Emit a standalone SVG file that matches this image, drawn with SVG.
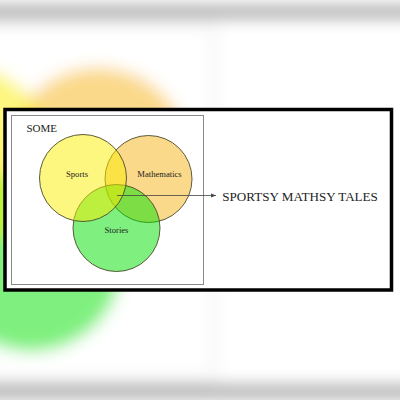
<svg xmlns="http://www.w3.org/2000/svg" width="400" height="400" viewBox="0 0 400 400">
  <defs>
    <filter id="blur" filterUnits="userSpaceOnUse" x="-60" y="-60" width="520" height="520">
      <feGaussianBlur stdDeviation="8"/>
    </filter>
    <marker id="arrow" markerWidth="6" markerHeight="6" refX="5" refY="3" orient="auto" markerUnits="userSpaceOnUse">
      <path d="M0,1 L5,3 L0,5 Z" fill="#444"/>
    </marker>
    <style>
      .lbl { fill: #222; }
      .circ { stroke: #4a4a2a; stroke-width: 0.9; fill-opacity: 0.5; }
    </style>
  </defs>

  <!-- blurred background -->
  <rect x="0" y="0" width="400" height="400" fill="#ffffff"/>
  <g filter="url(#blur)">
    <g transform="translate(-212,-215.8) scale(2.09)">
      <rect x="5" y="109.5" width="386.5" height="180.5" fill="#ffffff" stroke="#000" stroke-width="3.5"/>
      <rect x="11.5" y="115.5" width="192" height="169" fill="none" stroke="#888" stroke-width="1" stroke-opacity="0.3"/>
      <circle cx="148.5" cy="179" r="43.5" fill="#f7b315" fill-opacity="0.5"/>
      <circle cx="116.5" cy="228" r="43.5" fill="#00e100" fill-opacity="0.5"/>
      <circle cx="83" cy="178" r="43.5" fill="#fbed00" fill-opacity="0.5"/>
    </g>
  </g>

  <!-- main picture -->
  <rect x="5" y="109.5" width="386.5" height="180.5" fill="#ffffff" stroke="#000" stroke-width="3.5"/>
  <rect x="11.5" y="115.5" width="192" height="169" fill="none" stroke="#8a8a8a" stroke-width="1"/>
  <text class="lbl" x="26.5" y="132.3" font-size="11" font-family="'Liberation Serif', 'DejaVu Serif', serif">SOME</text>

  <g id="mathematics">
    <circle class="circ" cx="148.5" cy="179" r="43.5" fill="#f7b315"/>
  </g>
  <g id="stories">
    <circle class="circ" cx="116.5" cy="228" r="43.5" fill="#00e100"/>
  </g>
  <g id="sports">
    <circle class="circ" cx="83" cy="178" r="43.5" fill="#fbed00"/>
  </g>
  <text class="lbl" x="77" y="177" font-size="8.6" text-anchor="middle" font-family="'Liberation Serif', 'DejaVu Serif', serif">Sports</text>
  <text class="lbl" x="159.5" y="177" font-size="8.6" text-anchor="middle" font-family="'Liberation Serif', 'DejaVu Serif', serif">Mathematics</text>
  <text class="lbl" x="116.5" y="232.5" font-size="8.6" text-anchor="middle" font-family="'Liberation Serif', 'DejaVu Serif', serif">Stories</text>

  <g id="connectors">
    <line x1="117" y1="195.5" x2="216" y2="195.5" stroke="#444" stroke-width="0.8" marker-end="url(#arrow)"/>
  </g>
  <g id="result">
    <text class="lbl" x="222.3" y="200.6" font-size="13.1" font-family="'Liberation Serif', 'DejaVu Serif', serif">SPORTSY MATHSY TALES</text>
  </g>
</svg>
